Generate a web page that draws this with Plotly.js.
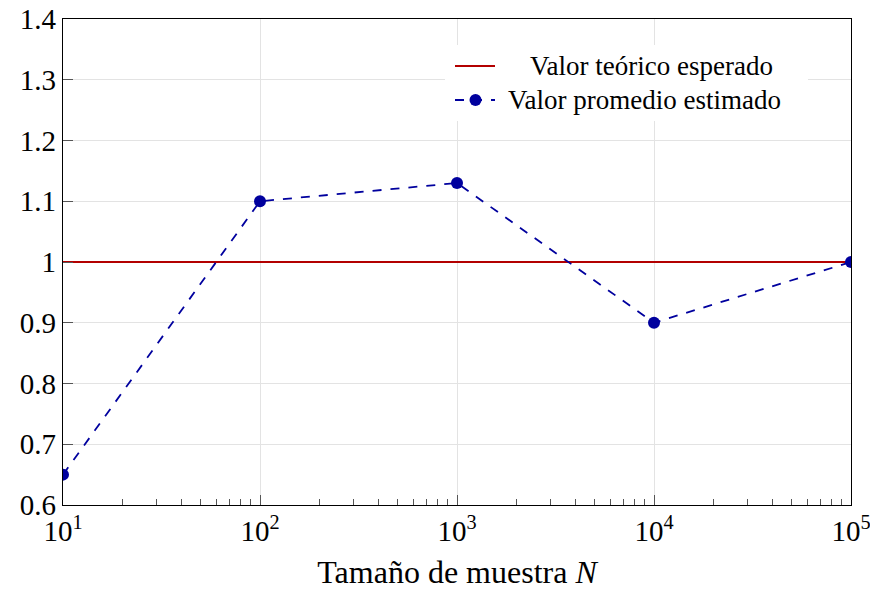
<!DOCTYPE html>
<html><head><meta charset="utf-8">
<script src="https://cdn.plot.ly/plotly-3.0.1.min.js"></script>
<style>body{margin:0}#c{width:870px;height:590px}</style>
</head><body><div id="c"></div>
<script>
const sampleSizes = [10, 100, 1000, 10000, 100000];
const estimatedMean = [0.65, 1.1, 1.13, 0.9, 1.0];
const theoreticalX = [10, 100000];
const theoreticalY = [1, 1];
const seriesNames = ['Valor teórico esperado', 'Valor promedio estimado'];
const xTickVals = [10, 100, 1000, 10000, 100000];
const xTickText = ['10<sup>1</sup>', '10<sup>2</sup>', '10<sup>3</sup>', '10<sup>4</sup>', '10<sup>5</sup>'];

const minorVals = [];
for (let d = 10; d < 100000; d *= 10) for (let k = 2; k <= 9; k++) minorVals.push(d * k);

const RED = '#b30000', BLUE = '#00009e';
const font = 'Liberation Serif';
const traces = [
  {x: theoreticalX, y: theoreticalY, mode: 'lines', name: seriesNames[0],
   line: {color: RED, width: 2}},
  {x: sampleSizes, y: estimatedMean, mode: 'lines+markers', name: seriesNames[1],
   line: {color: BLUE, width: 1.8, dash: 'dash'}, marker: {color: BLUE, size: 12}}
];

// manual legend (paper coordinates; plot area spans 63..851 px horizontally, 19..505 px vertically)
const px = v => (v - 63) / 788;
const py = v => (505 - v) / 486;
const legendShapes = [
  {type: 'rect', xref: 'paper', yref: 'paper', x0: px(445), x1: px(808), y0: py(121), y1: py(45),
   fillcolor: 'white', line: {width: 0}, layer: 'above'},
  {type: 'line', xref: 'paper', yref: 'paper', x0: px(455), x1: px(495), y0: py(66), y1: py(66),
   line: {color: RED, width: 2}, layer: 'above'},
  {type: 'line', xref: 'paper', yref: 'paper', x0: px(455), x1: px(495), y0: py(100), y1: py(100),
   line: {color: BLUE, width: 1.8, dash: 'dash'}, layer: 'above'},
  {type: 'circle', xref: 'paper', yref: 'paper', x0: px(469.5), x1: px(481.5), y0: py(106), y1: py(94),
   fillcolor: BLUE, line: {color: BLUE, width: 0}, layer: 'above'}
];
const legendAnnotations = [
  {xref: 'paper', yref: 'paper', x: px(651), y: py(66), xanchor: 'center', yanchor: 'middle',
   text: seriesNames[0], showarrow: false, font: {family: font, size: 27, color: '#000'}},
  {xref: 'paper', yref: 'paper', x: px(506), y: py(100), xanchor: 'left', yanchor: 'middle',
   text: seriesNames[1], showarrow: false, font: {family: font, size: 27, color: '#000'}}
];

const layout = {
  width: 870, height: 590,
  margin: {l: 63, r: 19, t: 19, b: 85},
  paper_bgcolor: 'white', plot_bgcolor: 'white',
  font: {family: font, color: '#000', size: 24},
  showlegend: false,
  shapes: legendShapes,
  annotations: legendAnnotations,
  xaxis: {type: 'log', range: [1, 5], tickmode: 'array', tickvals: xTickVals, ticktext: xTickText,
          ticks: 'inside', ticklen: 10, tickcolor: '#555', showgrid: true, gridcolor: '#e3e3e3',
          showline: true, linecolor: '#000', linewidth: 1.2, mirror: true, zeroline: false,
          tickfont: {size: 29, family: font}, ticklabeloverflow: 'allow',
          minor: {tickmode: 'array', tickvals: minorVals, ticks: 'inside', ticklen: 6, tickcolor: '#555', showgrid: false},
          title: {text: 'Tamaño de muestra <i>N</i>', font: {size: 32, family: font}, standoff: 14}},
  yaxis: {range: [0.6, 1.4], dtick: 0.1, tick0: 0.6, ticks: 'inside', ticklen: 10, tickcolor: '#555',
          showgrid: true, gridcolor: '#e3e3e3', showline: true, linecolor: '#000', linewidth: 1.2,
          mirror: true, zeroline: false, tickfont: {size: 29, family: font}}
};
Plotly.newPlot('c', traces, layout, {displayModeBar: false});
</script></body></html>
